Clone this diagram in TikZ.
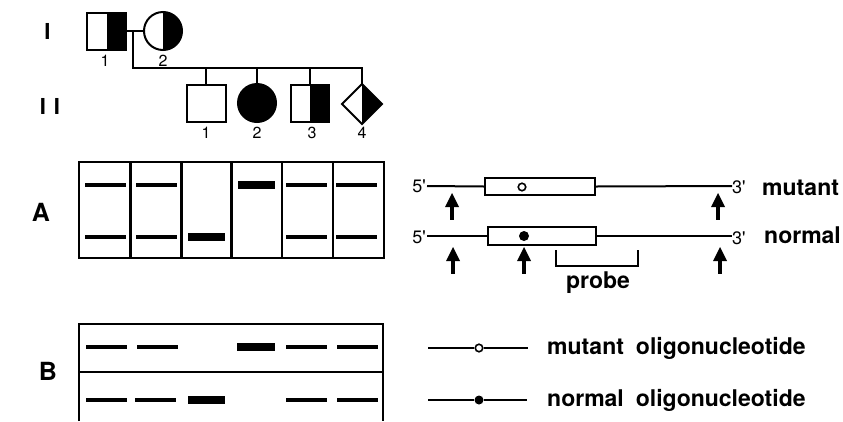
\documentclass[tikz,border=0pt]{standalone}
\usepackage{fontspec}
\setmainfont{TeX Gyre Heros}
\usetikzlibrary{shapes.geometric}
\begin{document}
\begin{tikzpicture}[x=1pt,y=-1pt,
  ln/.style={line width=2pt},
  sym/.style={draw, line width=2pt, inner sep=0pt, outer sep=0pt},
  sq/.style={sym, rectangle, minimum width=39pt, minimum height=37pt},
  circ/.style={sym, circle, minimum size=38pt},
  dia/.style={sym, diamond, minimum width=40pt, minimum height=40pt},
  righthalf/.style={path picture={\fill[black] (path picture bounding box.north) rectangle (path picture bounding box.south east);}},
  num/.style={font=\fontsize{16}{16}\selectfont, inner sep=0pt, anchor=base},
  gen/.style={font=\bfseries\fontsize{22}{22}\selectfont, inner sep=0pt},
  panel/.style={font=\bfseries\fontsize{25}{25}\selectfont, inner sep=0pt},
  word/.style={font=\bfseries\fontsize{23}{23}\selectfont, inner sep=0pt, anchor=base west},
  prime/.style={font=\fontsize{18}{18}\selectfont, inner sep=1pt},
  lane/.style={draw, line width=2pt, rectangle, minimum width=51pt, minimum height=96pt, inner sep=0pt},
  genebox/.style={draw, line width=2pt, rectangle, minimum width=110pt, minimum height=17pt, inner sep=0pt},
  opendot/.style={draw, circle, line width=1.6pt, fill=white, minimum size=7.5pt, inner sep=0pt},
  fulldot/.style={circle, fill=black, minimum size=10pt, inner sep=0pt},
  smalldot/.style={circle, fill=black, minimum size=9pt, inner sep=0pt},
  cut/.pic={\fill (-7,0) -- (0,-14) -- (7,0) -- cycle; \fill (-1.7,-1) rectangle (1.7,13);}
]
\useasboundingbox (0,0) rectangle (843,421);

% ---------- pedigree ----------
\node[gen] (genI) at (47.5,31) {I};
\node[gen] (genII) at (50,106) {I\hspace{8pt}I};

\node[sq, righthalf] (p11) at (106.5,31) {};
\node[circ, righthalf] (p12) at (163,31) {};
\node[num] at (105,66) {1};
\node[num] at (163,66) {2};

\node[sq] (p21) at (206,103) {};
\node[circ, fill=black] (p22) at (257,103) {};
\node[sq, minimum width=38pt, righthalf] (p23) at (310,103) {};
\node[dia, righthalf] (p24) at (362,104) {};
\node[num] at (206,138) {1};
\node[num] at (257,138) {2};
\node[num] at (312,138) {3};
\node[num] at (362,138) {4};

\draw[ln] (p11.east) -- (p12.west);
\coordinate (mate) at (133,31);
\coordinate (sib) at (133,68);
\coordinate (sibend) at (p24.north |- sib);
\draw[ln] (mate) -- (sib) -- (sibend) -- (p24.north);
\foreach \c in {p21,p22,p23}
  \draw[ln] (\c.north |- sib) -- (\c.north);

% ---------- panel A: gel ----------
\node[panel] (labA) at (41,212) {A};
\foreach \i/\x in {1/104.5,2/156,3/206.5,4/256.5,5/307.5,6/358}
  \node[lane] (a\i) at (\x,210) {};
% thin bands: upper and lower alleles
\foreach \xa/\xb in {85/126,136/177,286/327,336/377}{
  \fill (\xa,183) rectangle (\xb,187);
  \fill (\xa,235) rectangle (\xb,239);
}
% heavy bands: homozygous lanes
\fill (188,233) rectangle (225,241);
\fill (238,181) rectangle (275,189);

% ---------- panel A: restriction map ----------
\node[genebox] (mbox) at (540,186.5) {};
\node[genebox, minimum width=108pt, minimum height=18pt] (nbox) at (542,236) {};
\node[opendot] (mdot) at (522,187) {};
\node[fulldot] (ndot) at (524,236) {};

\node[prime, anchor=base east] (m5) at (427,192) {5\textquotesingle};
\node[prime, anchor=base west] (m3) at (731,193) {3\textquotesingle};
\node[prime, anchor=base east] (n5) at (427,243) {5\textquotesingle};
\node[prime, anchor=base west] (n3) at (731,244) {3\textquotesingle};
\coordinate (m5e) at (427,186);
\coordinate (m3e) at (732,186);
\coordinate (n5e) at (427,236);
\coordinate (n3e) at (732,236);
\draw[ln] (m5e) -- (mbox.west);
\draw[ln] (mbox.east) -- (m3e);
\draw[ln] (n5e) -- (nbox.west);
\draw[ln] (nbox.east) -- (n3e);

\node[word] (mutA) at (762,195) {mutant};
\node[word] (norA) at (764,243) {normal};

% restriction sites
\pic at (452,207) {cut};
\pic at (718,207) {cut};
\pic at (453,261) {cut};
\pic at (524,261) {cut};
\pic at (720,261) {cut};

% probe bracket
\coordinate (pr1) at (556,250);
\coordinate (pr2) at (638,250);
\draw[ln] (pr1) -- ++(0,16) -| (pr2);
\node[font=\bfseries\fontsize{23}{23}\selectfont, inner sep=0pt] (probe) at (598,283) {probe};

% ---------- panel B: dot blot ----------
\node[panel] (labB) at (48,371) {B};
\coordinate (bl) at (79,421);
\coordinate (br) at (383,421);
\draw[ln] (bl) -- (79,324) -- (383,324) -- (br);
\draw[ln] (79,372) -- (383,372);
\foreach \xa/\xb in {86/127,137/178,286/327,337/378}
  \fill (\xa,345) rectangle (\xb,349);
\fill (237,343) rectangle (275,351);
\foreach \xa/\xb in {86/127,135/176,286/327,337/378}
  \fill (\xa,398) rectangle (\xb,402);
\fill (188,396) rectangle (225,404);

% oligonucleotide legend
\coordinate (lm1) at (428,348);
\coordinate (lm2) at (528,348);
\node[opendot] (lmd) at (479,348) {};
\draw[ln] (lm1) -- (lmd) -- (lm2);
\coordinate (ln1) at (428,400);
\coordinate (ln2) at (527,400);
\node[smalldot] (lnd) at (479,400) {};
\draw[ln] (ln1) -- (lnd) -- (ln2);
\node[word] (mutB) at (547,354) {mutant\hspace{12pt}oligonucleotide};
\node[word] (norB) at (547,406) {normal\hspace{12pt}oligonucleotide};
\end{tikzpicture}
\end{document}
